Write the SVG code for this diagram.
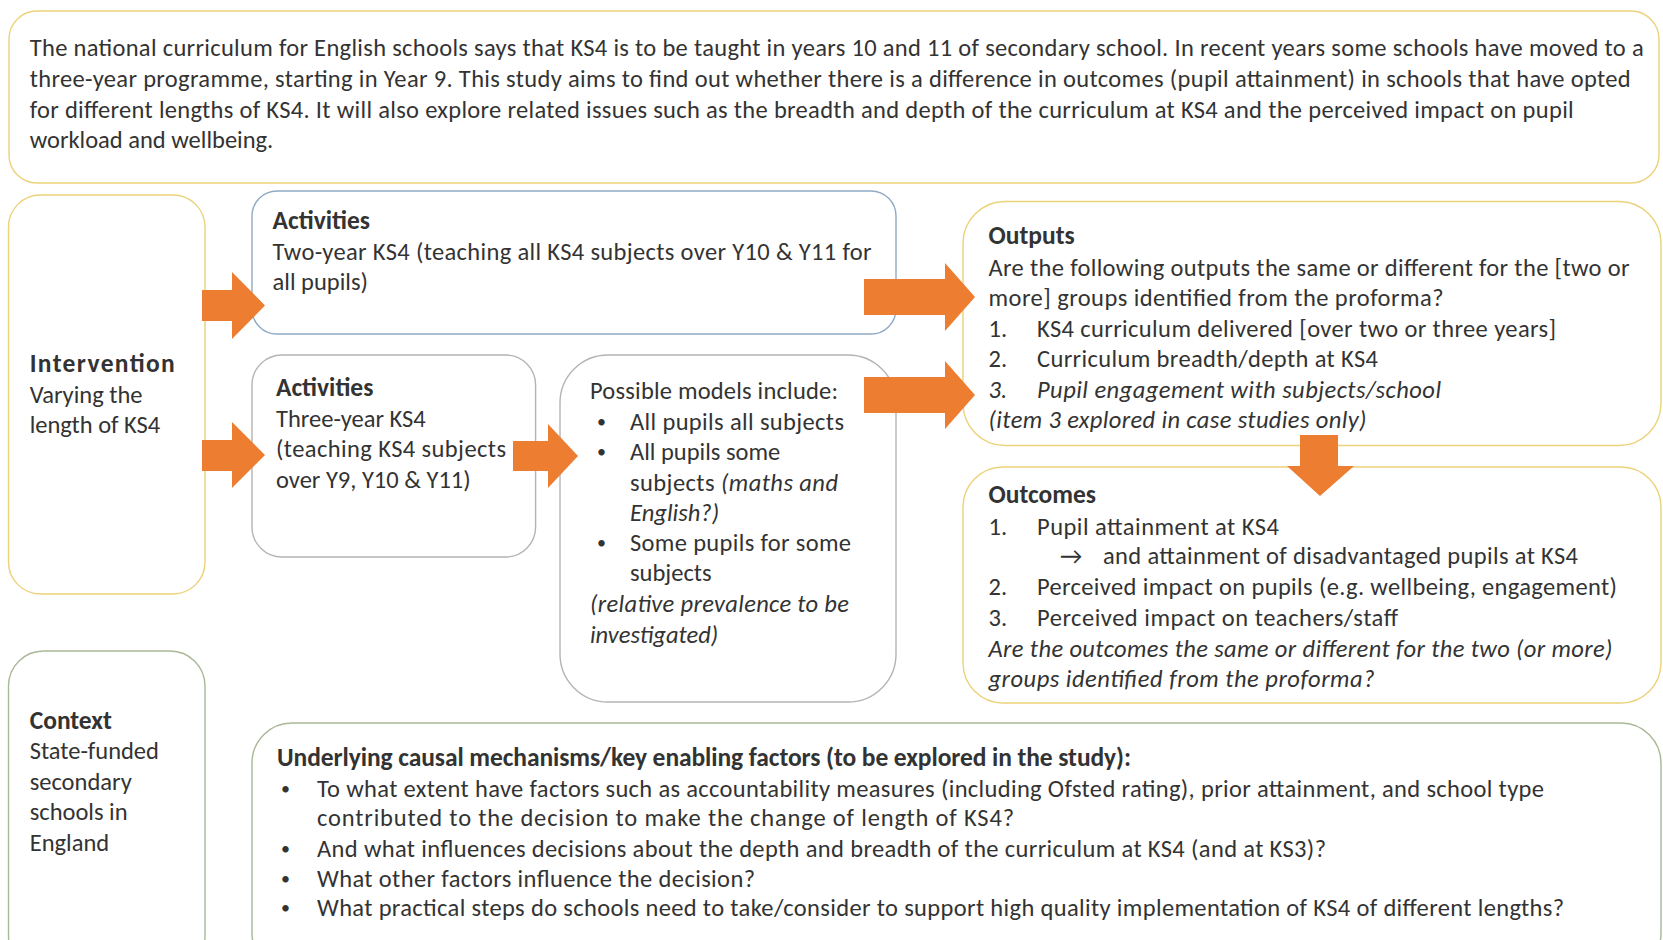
<svg xmlns="http://www.w3.org/2000/svg" width="1663" height="940" viewBox="0 0 1663 940">
<style>
text{font-family:Carlito,Lato,"Liberation Sans",sans-serif;font-size:24.5px;fill:#333}
.b{font-weight:bold;font-size:25.5px}
.i{font-style:italic}
.dot{font-size:18px}
.box{fill:#fff;stroke-width:1.4}
.y{stroke:#ecd27a}
.bl{stroke:#90aac4}
.g{stroke:#b4b4b4}
.gr{stroke:#a9b896}
.arr{fill:#ed7d31}
</style>
<rect width="1663" height="940" fill="#fff"/>
<g id="intro">
<rect class="box y" x="9" y="11" width="1650" height="172" rx="28"/>
<text x="29.7" y="56" textLength="1614">The national curriculum for English schools says that KS4 is to be taught in years 10 and 11 of secondary school. In recent years some schools have moved to a</text>
<text x="29.7" y="87" textLength="1601">three-year programme, starting in Year 9. This study aims to find out whether there is a difference in outcomes (pupil attainment) in schools that have opted</text>
<text x="29.7" y="117.5" textLength="1544">for different lengths of KS4. It will also explore related issues such as the breadth and depth of the curriculum at KS4 and the perceived impact on pupil</text>
<text x="29.7" y="148">workload and wellbeing.</text>
</g>
<g id="intervention">
<rect class="box y" x="8.5" y="195" width="196.5" height="399" rx="32"/>
<text class="b" x="29.7" y="372" textLength="145">Intervention</text>
<text x="29.7" y="403">Varying the</text>
<text x="29.7" y="433">length of KS4</text>
</g>
<g id="activities1">
<rect class="box bl" x="252" y="191" width="644" height="143" rx="25"/>
<text class="b" x="272.6" y="229">Activities</text>
<text x="272.6" y="260" textLength="599">Two-year KS4 (teaching all KS4 subjects over Y10 &amp; Y11 for</text>
<text x="272.6" y="290">all pupils)</text>
</g>
<g id="activities2">
<rect class="box g" x="252" y="355" width="283.6" height="202" rx="30"/>
<text class="b" x="276" y="396">Activities</text>
<text x="276" y="427">Three-year KS4</text>
<text x="276" y="457" textLength="230">(teaching KS4 subjects</text>
<text x="276" y="488">over Y9, Y10 &amp; Y11)</text>
</g>
<g id="models">
<rect class="box g" x="560" y="355" width="336" height="347" rx="48"/>
<text x="590" y="399" textLength="248">Possible models include:</text>
<text class="dot" x="597" y="428">•</text>
<text x="630" y="430" textLength="214">All pupils all subjects</text>
<text class="dot" x="597" y="458">•</text>
<text x="630" y="460">All pupils some</text>
<text x="630" y="491" textLength="208">subjects <tspan class="i">(maths and</tspan></text>
<text class="i" x="630" y="521">English?)</text>
<text class="dot" x="597" y="549">•</text>
<text x="630" y="551" textLength="221">Some pupils for some</text>
<text x="630" y="581">subjects</text>
<text class="i" x="590" y="612" textLength="259">(relative prevalence to be</text>
<text class="i" x="590" y="643">investigated)</text>
</g>
<g id="outputs">
<rect class="box y" x="963" y="201.5" width="698" height="244" rx="42"/>
<text class="b" x="988.5" y="244">Outputs</text>
<text x="988.5" y="276" textLength="641">Are the following outputs the same or different for the [two or</text>
<text x="988.5" y="306" textLength="455">more] groups identified from the proforma?</text>
<text x="988.5" y="337">1.</text>
<text x="1037" y="337" textLength="519">KS4 curriculum delivered [over two or three years]</text>
<text x="988.5" y="367">2.</text>
<text x="1037" y="367" textLength="341">Curriculum breadth/depth at KS4</text>
<text class="i" x="988.5" y="397.5">3.</text>
<text class="i" x="1037" y="397.5" textLength="404">Pupil engagement with subjects/school</text>
<text class="i" x="988.5" y="427.5" textLength="378">(item 3 explored in case studies only)</text>
</g>
<g id="outcomes">
<rect class="box y" x="963" y="467" width="698" height="236" rx="40"/>
<text class="b" x="988.5" y="503">Outcomes</text>
<text x="988.5" y="534.5">1.</text>
<text x="1037" y="534.5" textLength="242">Pupil attainment at KS4</text>
<text x="1060" y="564">→</text>
<text x="1103" y="564" textLength="475">and attainment of disadvantaged pupils at KS4</text>
<text x="988.5" y="595">2.</text>
<text x="1037" y="595" textLength="580">Perceived impact on pupils (e.g. wellbeing, engagement)</text>
<text x="988.5" y="626">3.</text>
<text x="1037" y="626" textLength="361">Perceived impact on teachers/staff</text>
<text class="i" x="988.5" y="656.5" textLength="624">Are the outcomes the same or different for the two (or more)</text>
<text class="i" x="988.5" y="686.5" textLength="386">groups identified from the proforma?</text>
</g>
<g id="context">
<rect class="box gr" x="8.5" y="651" width="196.5" height="320" rx="35"/>
<text class="b" x="29.7" y="729">Context</text>
<text x="29.7" y="759">State-funded</text>
<text x="29.7" y="790">secondary</text>
<text x="29.7" y="820">schools in</text>
<text x="29.7" y="851">England</text>
</g>
<g id="mechanisms">
<rect class="box gr" x="252" y="723" width="1409" height="250" rx="40"/>
<text class="b" x="277" y="766" textLength="854">Underlying causal mechanisms/key enabling factors (to be explored in the study):</text>
<text class="dot" x="281" y="795">•</text>
<text x="317" y="797" textLength="1227">To what extent have factors such as accountability measures (including Ofsted rating), prior attainment, and school type</text>
<text x="317" y="826" textLength="697">contributed to the decision to make the change of length of KS4?</text>
<text class="dot" x="281" y="855">•</text>
<text x="317" y="857" textLength="1009">And what influences decisions about the depth and breadth of the curriculum at KS4 (and at KS3)?</text>
<text class="dot" x="281" y="885">•</text>
<text x="317" y="887" textLength="438">What other factors influence the decision?</text>
<text class="dot" x="281" y="914">•</text>
<text x="317" y="916" textLength="1247">What practical steps do schools need to take/consider to support high quality implementation of KS4 of different lengths?</text>
</g>
<g id="connectors">
<polygon class="arr" points="202,290 232,290 232,272 265,305.5 232,339 232,321 202,321"/>
<polygon class="arr" points="202,440 232,440 232,422 265,455 232,488 232,471 202,471"/>
<polygon class="arr" points="513,441 548,441 548,424 578,456 548,488 548,471 513,471"/>
<polygon class="arr" points="864,279 945,279 945,263 975,297 945,331 945,315 864,315"/>
<polygon class="arr" points="864,377 945,377 945,361 975,395 945,429 945,413 864,413"/>
<polygon class="arr" points="1300,435 1338,435 1338,466 1354,466 1320,496 1287,466 1300,466"/>
</g>
</svg>
